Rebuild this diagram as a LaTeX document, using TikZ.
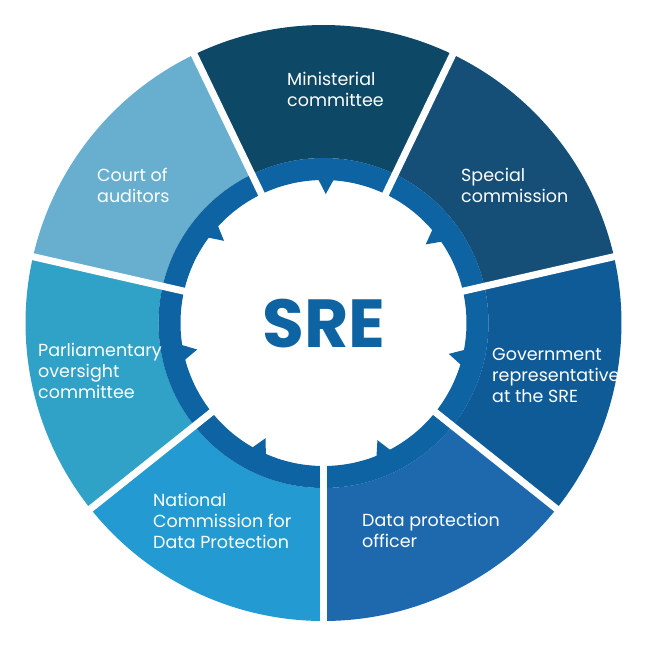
\documentclass[tikz,border=0pt]{standalone}
\usepackage{fontspec}
\setmainfont{Poppins}
\definecolor{cMin}{HTML}{0D4866}
\definecolor{cSpec}{HTML}{154F78}
\definecolor{cGov}{HTML}{0F5B97}
\definecolor{cDpo}{HTML}{1E69AE}
\definecolor{cNcdp}{HTML}{239AD2}
\definecolor{cParl}{HTML}{30A1C7}
\definecolor{cCourt}{HTML}{68AFCF}
\definecolor{cRing}{HTML}{0E63A2}
\tikzset{
  lbl/.style={text=white, font=\fontsize{17.5}{21}\selectfont, align=left, anchor=west, inner sep=0pt},
  gapline/.style={white, line width=7pt},
  notch/.style={fill=cRing}
}
\begin{document}
\begin{tikzpicture}[x=1pt,y=1pt]
\useasboundingbox (-323.5,-325) rectangle (324.5,323);
% sectors
\foreach \a/\c in {90/cMin, 38.571/cSpec, -12.857/cGov, -64.286/cDpo, -115.714/cNcdp, -167.143/cParl, 141.429/cCourt}{
  \pgfmathsetmacro\sa{\a-25.714}
  \pgfmathsetmacro\ea{\a+25.714}
  \fill[\c] (\sa:165) arc[start angle=\sa, end angle=\ea, radius=165] -- (\ea:298) arc[start angle=\ea, end angle=\sa, radius=298] -- cycle;
}
% inner ring
\fill[cRing, even odd rule] (0,0) circle[radius=165] (0,0) circle[radius=143];
% notches
\foreach \a in {89, 37.571, -13.857, -65.286, -116.714, -168.143, 140.429}{
  \pgfmathsetmacro\sa{\a-3.5}
  \pgfmathsetmacro\ea{\a+3.5}
  \fill[notch] (\sa:146) -- (\a:129) -- (\ea:146) -- cycle;
}
% gaps
\foreach \a in {-90, -38.571, 12.857, 64.286, 115.714, 167.143, 218.571}{
  \draw[gapline] (\a:140) -- (\a:306);
}
% labels
\node[lbl] (min) at (-36.5,234) {Ministerial\\committee};
\node[lbl] (spec) at (137.5,137.5) {Special\\commission};
\node[lbl] (gov) at (168.5,-52) {Government\\representative\\at the SRE};
\node[lbl] (dpo) at (38.5,-207.5) {Data protection\\officer};
\node[lbl] (ncdp) at (-170.5,-197.7) {National\\Commission for\\Data Protection};
\node[lbl] (parl) at (-285.5,-47.7) {Parliamentary\\oversight\\committee};
\node[lbl] (court) at (-226.5,137.5) {Court of\\auditors};
\node[text=cRing, font=\fontsize{68}{70}\selectfont\bfseries, inner sep=0pt] (sre) at (0.5,-1) {SRE};
\end{tikzpicture}
\end{document}
